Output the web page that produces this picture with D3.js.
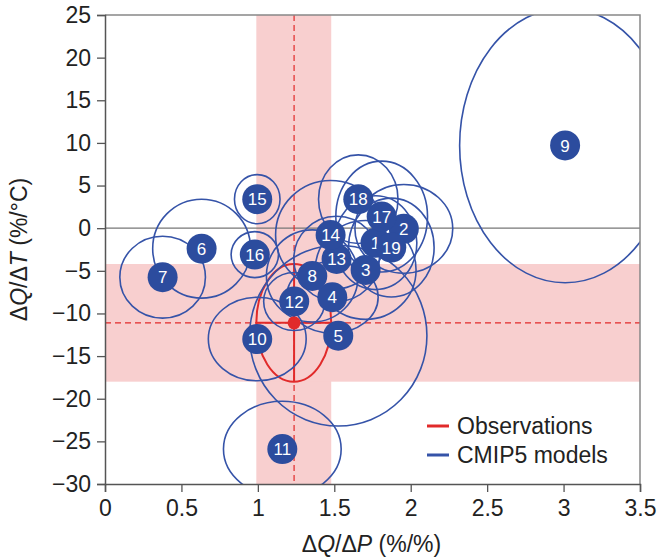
<!DOCTYPE html>
<html>
<head>
<meta charset="utf-8">
<script src="https://cdn.jsdelivr.net/npm/d3@7"></script>
<style>
  html, body { margin: 0; padding: 0; background: #fff; }
  text { font-family: "Liberation Sans", Arial, sans-serif; }
</style>
</head>
<body>
<svg id="chart" width="660" height="560"></svg>
<script>
// CMIP5 models: centre and half-width of each uncertainty ellipse
const modelIds = [1, 2, 3, 4, 5, 6, 7, 8, 9, 10, 11, 12, 13, 14, 15, 16, 17, 18, 19];
const modelX  = [1.77, 1.955, 1.705, 1.487, 1.526, 0.632, 0.377, 1.356, 3.01, 0.996, 1.16, 1.238, 1.515, 1.476, 0.996, 0.98, 1.81, 1.657, 1.873];
const modelY  = [-1.7, -0.08, -4.9, -8.1, -12.6, -2.4, -5.75, -5.6, 9.7, -13.0, -25.9, -8.6, -3.6, -0.8, 3.4, -3.1, 1.36, 3.4, -2.27];
const modelRx = [0.27, 0.32, 0.33, 0.3, 0.58, 0.32, 0.28, 0.3, 0.69, 0.32, 0.385, 0.2, 0.28, 0.36, 0.149, 0.155, 0.3, 0.26, 0.28];
const modelRy = [5.5, 5.2, 5.8, 4.2, 10.6, 5.8, 4.8, 5.4, 16.1, 4.9, 5.6, 3.4, 5.0, 6.4, 2.88, 2.7, 6.5, 5.2, 5.8];

// Observations: best estimate and uncertainty range
const obsX = 1.237;
const obsY = -11.1;
const obsXRange = [0.99, 1.48];
const obsYRange = [-18, -4.2];

const xTicks = [0, 0.5, 1, 1.5, 2, 2.5, 3, 3.5];
const yTicks = [-30, -25, -20, -15, -10, -5, 0, 5, 10, 15, 20, 25];
const legendLabels = ['Observations', 'CMIP5 models'];

const RED = '#e12a2a';
const PINK = '#f8cfcf';
const BLUE = '#2c4c9e';
const BLUE_LINE = '#3553a8';

const svg = d3.select('#chart');
const margin = { top: 15, right: 20, bottom: 76, left: 105 };
const width = 660 - margin.left - margin.right;
const height = 560 - margin.top - margin.bottom;

const x = d3.scaleLinear().domain([0, 3.5]).range([0, width]);
const y = d3.scaleLinear().domain([-30, 25]).range([height, 0]);

const g = svg.append('g').attr('transform', `translate(${margin.left},${margin.top})`);

g.append('clipPath').attr('id', 'plot-clip')
    .append('rect').attr('width', width).attr('height', height);

const plot = g.append('g').attr('clip-path', 'url(#plot-clip)');

// Observational uncertainty bands
plot.append('rect')
    .attr('x', x(obsXRange[0])).attr('width', x(obsXRange[1]) - x(obsXRange[0]))
    .attr('y', 0).attr('height', height)
    .attr('fill', PINK);
plot.append('rect')
    .attr('x', 0).attr('width', width)
    .attr('y', y(obsYRange[1])).attr('height', y(obsYRange[0]) - y(obsYRange[1]))
    .attr('fill', PINK);

// Zero line
plot.append('line')
    .attr('x1', 0).attr('x2', width)
    .attr('y1', y(0)).attr('y2', y(0))
    .attr('stroke', '#777').attr('stroke-width', 1.3);

// Dashed observation lines
plot.append('line')
    .attr('x1', x(obsX)).attr('x2', x(obsX))
    .attr('y1', 0).attr('y2', height)
    .attr('stroke', RED).attr('stroke-width', 1.2).attr('stroke-dasharray', '6,4');
plot.append('line')
    .attr('x1', 0).attr('x2', width)
    .attr('y1', y(obsY)).attr('y2', y(obsY))
    .attr('stroke', RED).attr('stroke-width', 1.2).attr('stroke-dasharray', '6,4');

// Observation ellipse and cross
const obsCx = (obsXRange[0] + obsXRange[1]) / 2;
const obsCy = (obsYRange[0] + obsYRange[1]) / 2;
plot.append('ellipse')
    .attr('cx', x(obsCx)).attr('cy', y(obsCy))
    .attr('rx', x(obsXRange[1]) - x(obsCx))
    .attr('ry', y(obsYRange[0]) - y(obsCy))
    .attr('fill', 'none').attr('stroke', RED).attr('stroke-width', 2);
plot.append('line')
    .attr('x1', x(obsXRange[0])).attr('x2', x(obsXRange[1]))
    .attr('y1', y(obsY)).attr('y2', y(obsY))
    .attr('stroke', RED).attr('stroke-width', 2);
plot.append('line')
    .attr('x1', x(obsX)).attr('x2', x(obsX))
    .attr('y1', y(obsYRange[1])).attr('y2', y(obsYRange[0]))
    .attr('stroke', RED).attr('stroke-width', 2);

const models = modelIds.map((id, i) => ({
    id, cx: modelX[i], cy: modelY[i], rx: modelRx[i], ry: modelRy[i],
}));

// Model ellipses
plot.selectAll('.model-ellipse')
    .data(models)
    .enter().append('ellipse')
    .attr('class', 'model-ellipse')
    .attr('cx', d => x(d.cx)).attr('cy', d => y(d.cy))
    .attr('rx', d => x(d.cx + d.rx) - x(d.cx))
    .attr('ry', d => y(d.cy - d.ry) - y(d.cy))
    .attr('fill', 'none').attr('stroke', BLUE_LINE).attr('stroke-width', 1.6);

// Observation best estimate
plot.append('circle')
    .attr('cx', x(obsX)).attr('cy', y(obsY)).attr('r', 6.5)
    .attr('fill', RED);

// Model markers
const marker = g.selectAll('.model-marker')
    .data(models)
    .enter().append('g')
    .attr('class', 'model-marker')
    .attr('transform', d => `translate(${x(d.cx)},${y(d.cy)})`);
marker.append('circle').attr('r', 15).attr('fill', BLUE);
marker.append('text')
    .attr('text-anchor', 'middle').attr('dy', '0.36em')
    .attr('font-size', '17px').attr('fill', '#fff')
    .text(d => d.id);

// Frame (top and right)
g.append('path')
    .attr('d', `M0,0H${width}V${height}`)
    .attr('fill', 'none').attr('stroke', '#888').attr('stroke-width', 1.5);

// Axes
const xAxis = g.append('g')
    .attr('transform', `translate(0,${height})`)
    .call(d3.axisBottom(x).tickValues(xTicks).tickFormat(d3.format('~g')).tickSize(8).tickPadding(8));
const yAxis = g.append('g')
    .call(d3.axisLeft(y).tickValues(yTicks).tickSize(8).tickPadding(6));
[xAxis, yAxis].forEach(ax => {
    ax.select('.domain').attr('stroke', '#555').attr('stroke-width', 1.5);
    ax.selectAll('.tick line').attr('stroke', '#555').attr('stroke-width', 1.3);
    ax.selectAll('.tick text')
        .attr('font-size', '23px').attr('fill', '#222')
        .attr('font-family', '"Liberation Sans", Arial, sans-serif');
});

// Axis titles
const xTitle = svg.append('text')
    .attr('x', margin.left + width / 2 - 1).attr('y', 552)
    .attr('text-anchor', 'middle').attr('font-size', '23px').attr('fill', '#222');
xTitle.append('tspan').text('Δ');
xTitle.append('tspan').attr('font-style', 'italic').text('Q');
xTitle.append('tspan').text('/Δ');
xTitle.append('tspan').attr('font-style', 'italic').text('P');
xTitle.append('tspan').text(' (%/%)');

const yTitle = svg.append('text')
    .attr('transform', `translate(27,${margin.top + y(-2.5)}) rotate(-90)`)
    .attr('text-anchor', 'middle').attr('font-size', '23px').attr('fill', '#222');
yTitle.append('tspan').text('Δ');
yTitle.append('tspan').attr('font-style', 'italic').text('Q');
yTitle.append('tspan').text('/Δ');
yTitle.append('tspan').attr('font-style', 'italic').text('T');
yTitle.append('tspan').text(' (%/°C)');

// Legend
const legend = g.append('g').attr('transform', `translate(${width - 213},${height - 58})`);
legend.selectAll('g')
    .data(legendLabels)
    .enter().append('g')
    .attr('transform', (d, i) => `translate(0,${i * 29})`)
    .each(function (d, i) {
        const item = d3.select(this);
        item.append('line')
            .attr('x1', 0).attr('x2', 22)
            .attr('stroke', i === 0 ? RED : BLUE_LINE).attr('stroke-width', 3);
        item.append('text')
            .attr('x', 30).attr('dy', '0.35em')
            .attr('font-size', '23px').attr('fill', '#222')
            .text(d);
    });
</script>
</body>
</html>
